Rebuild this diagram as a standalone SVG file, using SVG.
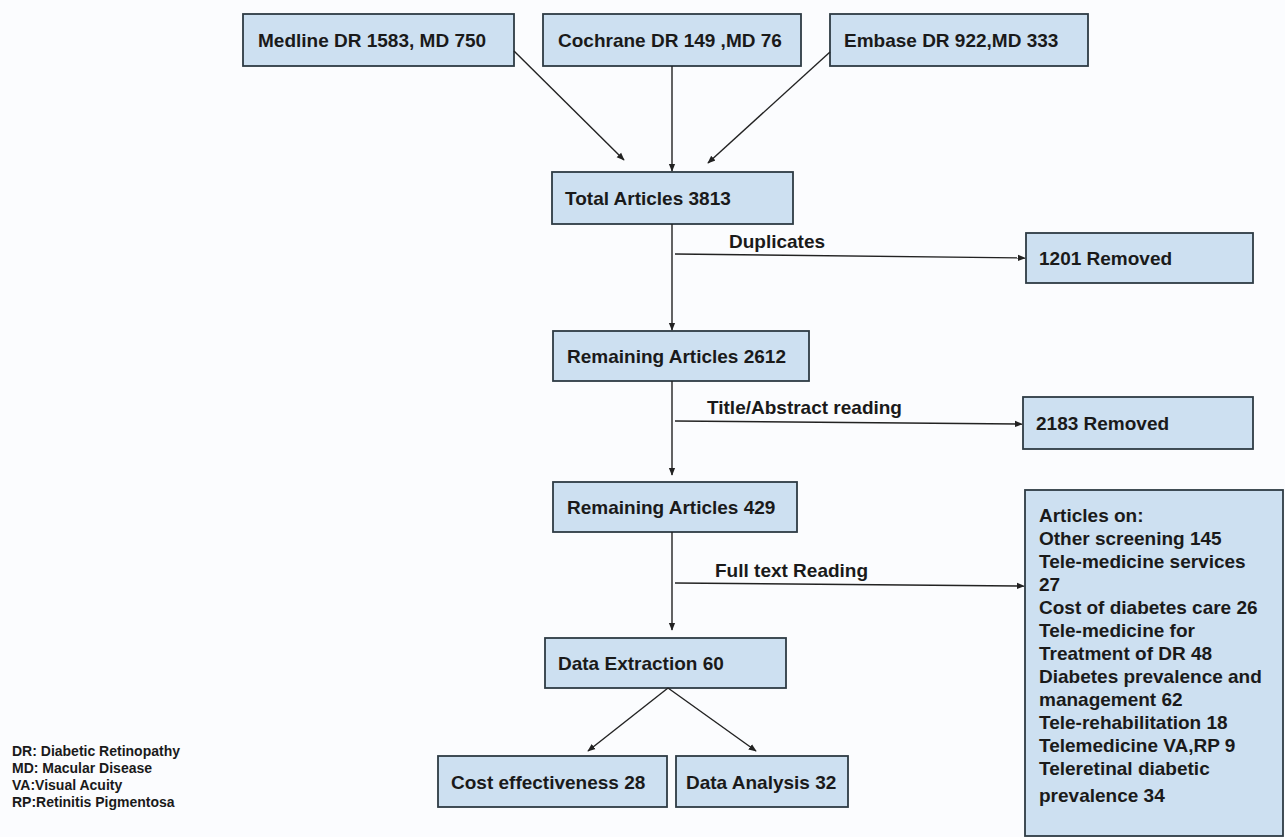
<svg xmlns="http://www.w3.org/2000/svg" width="1285" height="837" viewBox="0 0 1285 837">
<defs>
<style>
.box{fill:#cde0f1;stroke:#2e3b44;stroke-width:1.8}
.t{font-family:"Liberation Sans",Arial,sans-serif;font-weight:bold;font-size:19px;fill:#1a1a1a}
.lg{font-family:"Liberation Sans",Arial,sans-serif;font-weight:bold;font-size:14px;fill:#1a1a1a}
.c{stroke:#222;stroke-width:1.4;fill:none;marker-end:url(#ah)}
</style>
<marker id="ah" viewBox="0 0 10 10" refX="9" refY="5" markerWidth="8" markerHeight="8" orient="auto" markerUnits="userSpaceOnUse">
<path d="M0,1 L10,5 L0,9 Z" fill="#222"/>
</marker>
</defs>
<rect width="1285" height="837" fill="#fbfcfe"/>
<g id="medline"><rect class="box" x="243" y="14" width="271" height="52"/><text class="t" x="258" y="47">Medline DR 1583, MD 750</text></g>
<g id="cochrane"><rect class="box" x="543" y="14" width="258" height="52"/><text class="t" x="558" y="47">Cochrane DR 149 ,MD 76</text></g>
<g id="embase"><rect class="box" x="830" y="14" width="258" height="52"/><text class="t" x="844" y="47">Embase DR 922,MD 333</text></g>
<g id="total"><rect class="box" x="552" y="172" width="241" height="52"/><text class="t" x="565" y="205">Total Articles 3813</text></g>
<g id="removed1201"><rect class="box" x="1026" y="233" width="227" height="50"/><text class="t" x="1039" y="265">1201 Removed</text></g>
<g id="remaining2612"><rect class="box" x="553" y="331" width="256" height="50"/><text class="t" x="567" y="363">Remaining Articles 2612</text></g>
<g id="removed2183"><rect class="box" x="1023" y="397" width="230" height="52"/><text class="t" x="1036" y="430">2183 Removed</text></g>
<g id="remaining429"><rect class="box" x="553" y="482" width="244" height="50"/><text class="t" x="567" y="514">Remaining Articles 429</text></g>
<g id="excluded"><rect class="box" x="1025" y="490" width="258" height="346"/>
<text class="t" x="1039" y="522">Articles on:</text>
<text class="t" x="1039" y="545">Other screening 145</text>
<text class="t" x="1039" y="568">Tele-medicine services</text>
<text class="t" x="1039" y="591">27</text>
<text class="t" x="1039" y="614">Cost of diabetes care 26</text>
<text class="t" x="1039" y="637">Tele-medicine for</text>
<text class="t" x="1039" y="660">Treatment of DR 48</text>
<text class="t" x="1039" y="683">Diabetes prevalence and</text>
<text class="t" x="1039" y="706">management 62</text>
<text class="t" x="1039" y="729">Tele-rehabilitation 18</text>
<text class="t" x="1039" y="752">Telemedicine VA,RP 9</text>
<text class="t" x="1039" y="775">Teleretinal diabetic</text>
<text class="t" x="1039" y="802">prevalence 34</text></g>
<g id="extraction"><rect class="box" x="545" y="638" width="241" height="50"/><text class="t" x="558" y="670">Data Extraction 60</text></g>
<g id="cost"><rect class="box" x="438" y="756" width="229" height="51"/><text class="t" x="451" y="789">Cost effectiveness 28</text></g>
<g id="analysis"><rect class="box" x="676" y="756" width="172" height="51"/><text class="t" x="686" y="789">Data Analysis 32</text></g>
<g id="connectors">
<line class="c" x1="514" y1="51" x2="624" y2="160"/>
<line class="c" x1="672" y1="66" x2="672" y2="171"/>
<line class="c" x1="830" y1="52" x2="708" y2="163"/>
<line class="c" x1="672" y1="224" x2="672" y2="330"/>
<line class="c" x1="675" y1="254" x2="1025" y2="258"/>
<line class="c" x1="672" y1="381" x2="672" y2="475"/>
<line class="c" x1="675" y1="421" x2="1022" y2="424"/>
<line class="c" x1="672" y1="532" x2="672" y2="630"/>
<line class="c" x1="675" y1="583" x2="1024" y2="586"/>
<line class="c" x1="668" y1="688" x2="588" y2="751"/>
<line class="c" x1="668" y1="688" x2="756" y2="751"/>
</g>
<g id="labels">
<text class="t" x="729" y="248">Duplicates</text>
<text class="t" x="707" y="414">Title/Abstract reading</text>
<text class="t" x="715" y="577">Full text Reading</text>
</g>
<g id="legend">
<text class="lg" x="12" y="756">DR: Diabetic Retinopathy</text>
<text class="lg" x="12" y="773">MD: Macular Disease</text>
<text class="lg" x="12" y="790">VA:Visual Acuity</text>
<text class="lg" x="12" y="807">RP:Retinitis Pigmentosa</text>
</g>
</svg>
